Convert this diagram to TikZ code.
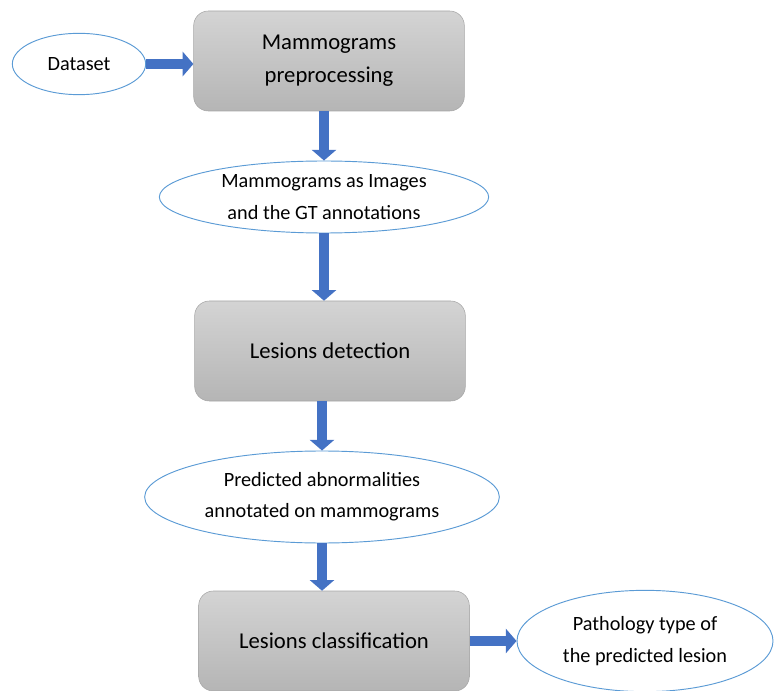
\documentclass[tikz,border=0pt]{standalone}
\usepackage{fontspec}
\setmainfont{Carlito}
\usetikzlibrary{arrows.meta,shapes.geometric}
\definecolor{arrowblue}{HTML}{4472C4}
\definecolor{ovalblue}{HTML}{5B9BD5}
\begin{document}
\begin{tikzpicture}[x=0.75pt, y=-0.75pt,
           procbox/.style = {shape=rectangle, rounded corners=11pt,
             align=center, draw=black!35, top color=black!17, bottom color=black!29,
             minimum width=203pt, minimum height=75pt,
             font=\fontsize{17}{25}\selectfont},
           dataoval/.style = {shape=ellipse, draw=ovalblue, fill=white,
             align=center, inner sep=0pt, line width=0.7pt,
             font=\fontsize{15.2}{23.5}\selectfont},
           blockarrow/.style = {draw=arrowblue, line width=8pt,
             -{Triangle[width=18pt,length=8pt]}, arrowblue}]
  \useasboundingbox (0,0) rectangle (774,691);
  % ovals and boxes
  \node[dataoval, minimum width=100pt, minimum height=46pt] (data) at (79,64) {Dataset};
  \node[procbox] (prep) at (329,61) {Mammograms\\preprocessing};
  \node[dataoval, minimum width=247pt, minimum height=54pt] (imgs) at (324,197)
    {Mammograms as Images\\and the GT annotations};
  \node[procbox] (detect) at (330,351) {Lesions detection};
  \node[dataoval, minimum width=266pt, minimum height=69pt] (pred) at (322,497)
    {Predicted abnormalities\\annotated on mammograms};
  \node[procbox] (classify) at (334,641) {Lesions classification};
  \node[dataoval, minimum width=192pt, minimum height=76pt] (patho) at (645,641)
    {Pathology type of\\the predicted lesion};
  % arrows
  \draw[blockarrow] (data.east) -- (data.east -| prep.west);
  \draw[blockarrow] (imgs.north |- prep.south) -- (imgs.north);
  \draw[blockarrow] (imgs.south) -- (imgs.south |- detect.north);
  \draw[blockarrow] (pred.north |- detect.south) -- (pred.north);
  \draw[blockarrow] (pred.south) -- (pred.south |- classify.north);
  \draw[blockarrow] (classify.east) -- (classify.east -| patho.west);
\end{tikzpicture}
\end{document}
